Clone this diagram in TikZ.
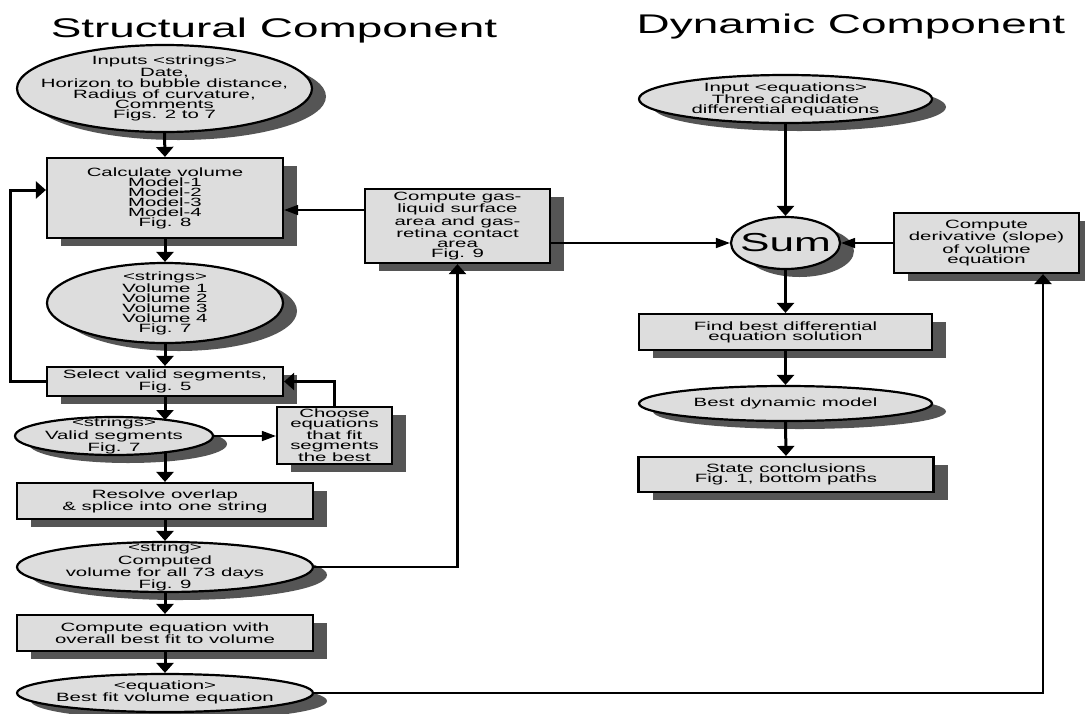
\documentclass[tikz,border=0pt]{standalone}
\usepackage{fontspec}
\newfontfamily\wf[FakeStretch=1.7]{Liberation Sans}
\usetikzlibrary{shapes.geometric,shadows,arrows.meta}
\definecolor{boxgray}{RGB}{221,221,221}
\definecolor{shd}{RGB}{85,85,85}
\tikzset{
  base/.style={draw=black, line width=2.2pt, fill=boxgray, inner sep=0pt,
    drop shadow={shadow xshift=14pt, shadow yshift=-8pt, fill=shd, opacity=1}},
  box/.style 2 args={base, rectangle, minimum width=#1, minimum height=#2,
    font=\wf\fontsize{12}{10}\selectfont, align=center},
  ell/.style 2 args={base, ellipse, minimum width=#1, minimum height=#2},
  txt/.style={font=\wf\fontsize{12}{10}\selectfont, align=center, inner sep=0pt},
  ttl/.style={font=\wf\fontsize{27}{30}\selectfont, inner sep=0pt, anchor=base},
  thk/.style={line width=3pt, -{Triangle[length=10pt,width=17pt]}},
  thn/.style={line width=1.6pt, -{Triangle[length=14pt,width=10pt]}},
  thl/.style={line width=2.4pt, -{Triangle[length=10pt,width=17pt]}}
}
\begin{document}
\begin{tikzpicture}[x=1pt,y=-1pt]
\useasboundingbox (0,0) rectangle (1085,713);
% titles
\node[ttl] (t1) at (274,37) {Structural Component};
\node[ttl] (t2) at (851,33) {Dynamic Component};
% structural column
\node[ell={295}{87}] (inputs) at (164.5,88.5) {};
\node[txt] (inputsT) at (inputs.center) {Inputs <strings>\\Date,\\Horizon to bubble distance,\\Radius of curvature,\\Comments\\Figs. 2 to 7};
\node[box={236}{80}] (calc) at (165,198) {Calculate volume\\Model-1\\Model-2\\Model-3\\Model-4\\Fig. 8};
\node[ell={236}{80}] (vols) at (165,303) {};
\node[txt] (volsT) at (vols.center) {<strings>\\Volume 1\\Volume 2\\Volume 3\\Volume 4\\Fig. 7};
\node[box={236}{29}] (select) at (165,381.5) {Select valid segments,\\Fig. 5};
\node[ell={198}{38}] (valid) at (114,436) {};
\node[txt] (validT) at (valid.center) {<strings>\\Valid segments\\Fig. 7};
\node[box={115}{57}] (choose) at (334.5,435.5) {Choose\\equations\\that fit\\segments\\the best};
\node[box={296}{36}] (resolve) at (165,501) {Resolve overlap\\\& splice into one string};
\node[ell={296}{50}] (computed) at (165,567) {};
\node[txt] (computedT) at (computed.center) {<string>\\Computed\\volume for all 73 days\\Fig. 9};
\node[box={296}{36}] (compeq) at (165,633) {Compute equation with\\overall best fit to volume};
\node[ell={296}{38}] (bestfit) at (165,693) {};
\node[txt] (bestfitT) at ([yshift=1pt]bestfit.center) {<equation>\\Best fit volume equation};
\node[box={185}{74}] (gas) at (457.5,226) {Compute gas-\\liquid surface\\area and gas-\\retina contact\\area\\Fig. 9};
% dynamic column
\node[ell={293}{48}] (inputeq) at (785.5,99) {};
\node[txt] (inputeqT) at (inputeq.center) {Input <equations>\\Three candidate\\differential equations};
\node[ell={109}{52}] (sum) at (785.5,243) {};
\node[txt, font=\wf\fontsize{26}{28}\selectfont] (sumT) at (sum.center) {Sum};
\node[box={185}{60}] (deriv) at (986.5,243) {Compute\\derivative (slope)\\of volume\\equation};
\node[box={293}{36}] (find) at (785.5,332) {Find best differential\\equation solution};
\node[ell={293}{35}] (bestdyn) at (785.5,403.5) {};
\node[txt] (bestdynT) at (bestdyn.center) {Best dynamic model};
\node[box={295}{35}] (state) at (786,474.5) {State conclusions\\Fig. 1, bottom paths};
% vertical flow arrows
\draw[thk] (inputs.south) -- (calc.north);
\draw[thk] (calc.south) -- (vols.north);
\draw[thk] (vols.south) -- (select.north);
\draw[thk] (select.south) -- (165,420);
\draw[thk] (165,452) -- (resolve.north);
\draw[thk] (resolve.south) -- (computed.north);
\draw[thk] (computed.south) -- (compeq.north);
\draw[thk] (compeq.south) -- (bestfit.north);
% feedback loops
\draw[thk] (select.west) -- ++(-35pt,0) |- ([yshift=8pt]calc.west);
\draw[thk] (choose.north) |- (select.east);
\draw[thn] (valid.east) -- (valid.east -| choose.west);
\draw[thn] ([yshift=16pt]gas.west) -- ([yshift=16pt]gas.west -| calc.east);
\draw[thn] (gas.east |- sum.west) -- (sum.west);
\draw[thl] (computed.east) -| (gas.south);
% dynamic arrows
\draw[thk] (inputeq.south) -- (sum.north);
\draw[thk] (sum.south) -- (find.north);
\draw[thk] (find.south) -- (bestdyn.north);
\draw[thk] (bestdyn.south) -- (state.north);
\draw[thn] (deriv.west) -- (sum.east);
\draw[thl] (bestfit.east) -| ([xshift=56.5pt]deriv.south);
\end{tikzpicture}
\end{document}
